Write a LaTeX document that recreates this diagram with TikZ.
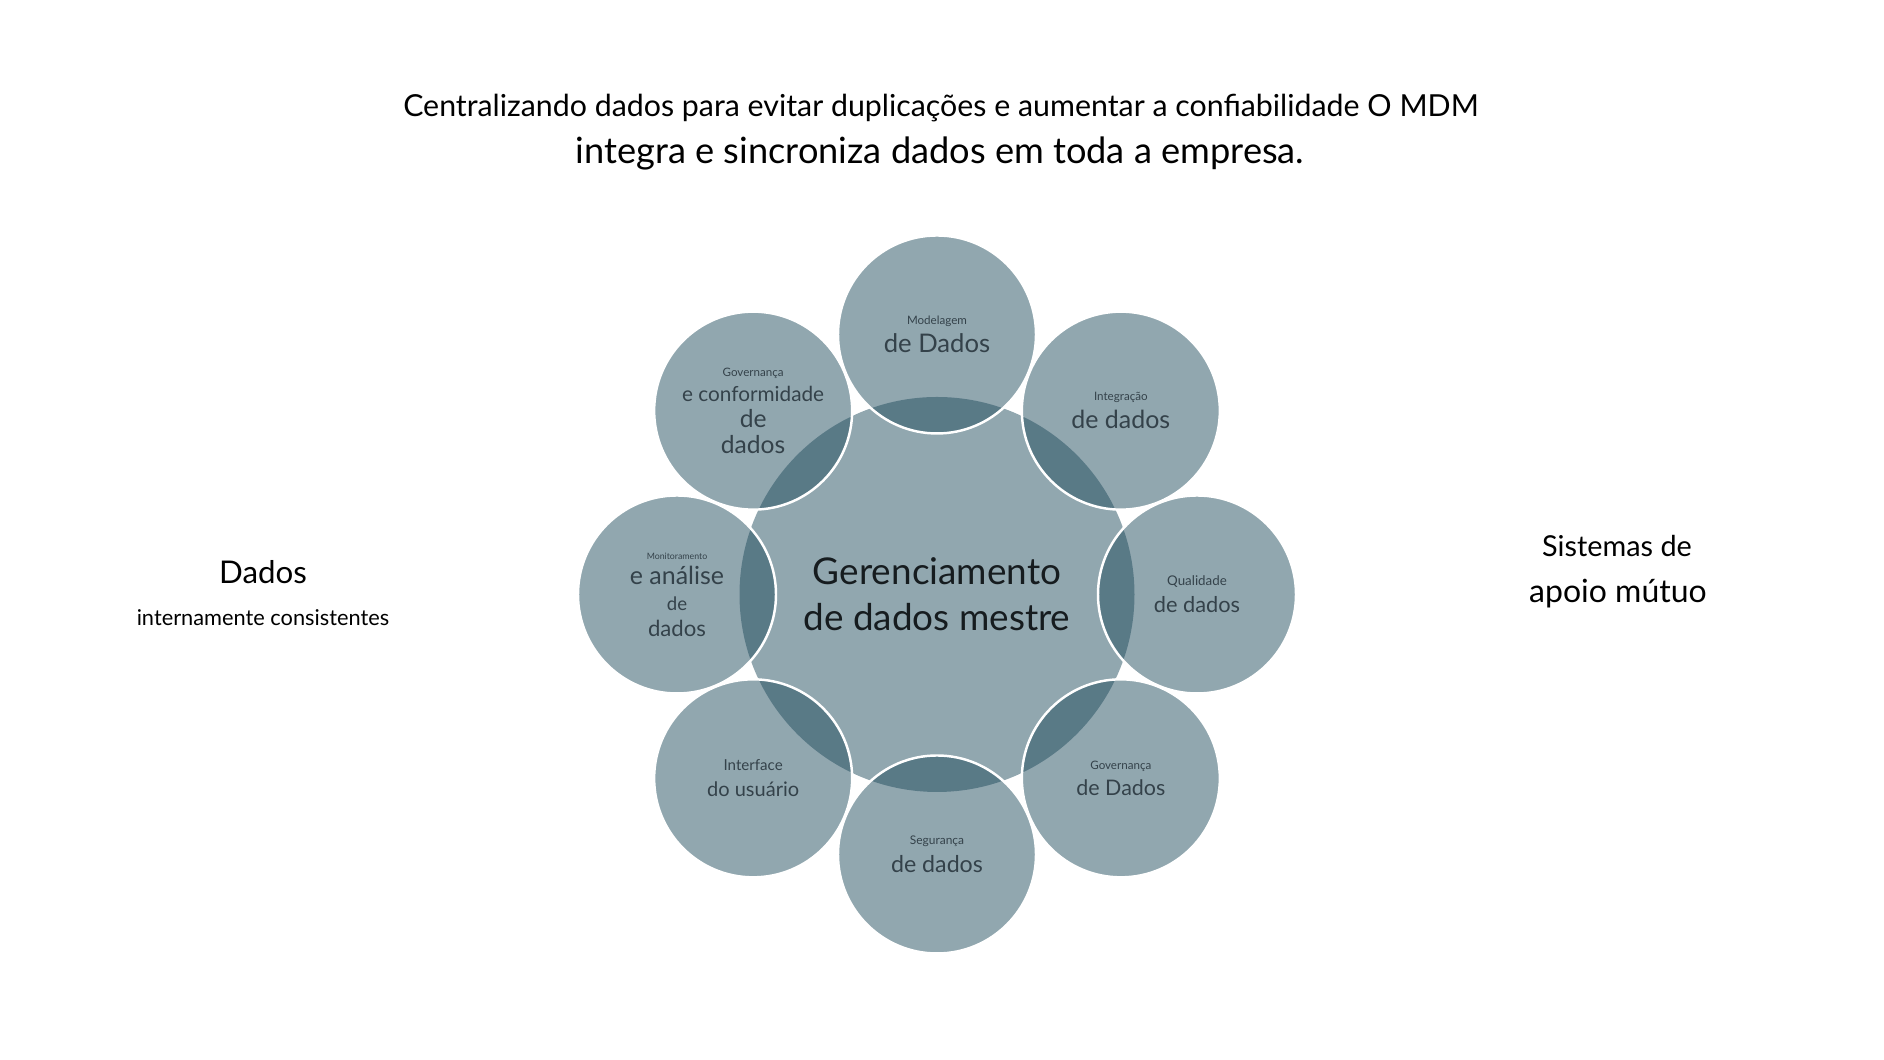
\documentclass[tikz,border=0pt]{standalone}
\usepackage{fontspec}
\setmainfont{Lato}
\usetikzlibrary{positioning}
\definecolor{mdmbase}{RGB}{31,75,92}
\definecolor{mdmtext}{RGB}{52,66,74}
\definecolor{mdmhead}{RGB}{22,28,31}
\newcommand{\toplbl}[2][3.3]{{\fontsize{#1}{#1}\selectfont #2}}
\newcommand{\fs}[2]{{\fontsize{#1}{#1}\selectfont #2}}

\begin{document}
\begin{tikzpicture}[
    hub/.style={circle, minimum size=3.95cm, inner sep=0pt, fill=mdmbase, fill opacity=0.49, text opacity=1, text=mdmhead, align=center, font=\fontsize{10.5}{13}\selectfont},
    petal/.style={circle, minimum size=1.98cm, inner sep=0pt, draw=white, line width=0.7pt, fill=mdmbase, fill opacity=0.49, draw opacity=1, text opacity=1, text=mdmtext, align=center},
    side/.style={anchor=base, text=black}
]
    \useasboundingbox (0,0) rectangle (18.84,10.60);

    % Title
    \node[side, font=\fontsize{8.63}{10}\selectfont] (title1) at (9.41,9.43) {Centralizando dados para evitar duplicações e aumentar a confiabilidade O MDM};
    \node[side, font=\fontsize{10.3}{12}\selectfont] (title2) at (9.40,8.96) {integra e sincroniza dados em toda a empresa.};

    % Left and right texts
    \node[side, font=\fontsize{8.9}{10}\selectfont] (dados) at (2.63,4.76) {Dados};
    \node[side, font=\fontsize{6.2}{8}\selectfont] (intern) at (2.63,4.34) {internamente consistentes};
    \node[side, font=\fontsize{8.2}{10}\selectfont] (sist) at (16.17,5.03) {Sistemas de};
    \node[side, font=\fontsize{9.1}{11}\selectfont] (apoio) at (16.18,4.57) {apoio mútuo};

    % Hub and petals
    \begin{scope}[shift={(9.37,4.655)}]
        \node[hub] (mdm) at (0,0) {Gerenciamento\\de dados mestre};

        \node[petal, font=\fontsize{7.3}{8}\selectfont] (model) at (90:2.6) {\toplbl{Modelagem}\\de Dados};
        \node[petal, font=\fontsize{7.1}{8}\selectfont] (integ) at (45:2.6) {\toplbl{Integração}\\de dados};
        \node[petal, font=\fontsize{6.2}{7.6}\selectfont] (qual) at (0:2.6) {\toplbl[3.8]{Qualidade}\\de dados};
        \node[petal, font=\fontsize{6.1}{7.6}\selectfont] (govdados) at (-45:2.6) {\toplbl{Governança}\\de Dados};
        \node[petal, font=\fontsize{6.6}{8}\selectfont] (segur) at (-90:2.6) {\toplbl[3.4]{Segurança}\\de dados};
        \node[petal, font=\fontsize{5.7}{7.4}\selectfont] (interf) at (-135:2.6) {\toplbl[4.3]{Interface}\\do usuário};
        \node[petal, font=\fontsize{7.1}{7.3}\selectfont] (monit) at (180:2.6) {\toplbl[2.5]{Monitoramento}\\e análise\\\fs{5.3}{de}\\\fs{6.3}{dados}};
        \node[petal, font=\fontsize{7}{7.3}\selectfont] (govconf) at (135:2.6) {\toplbl{Governança}\\\fs{5.9}{e conformidade}\\de\\dados};
    \end{scope}
\end{tikzpicture}
\end{document}
